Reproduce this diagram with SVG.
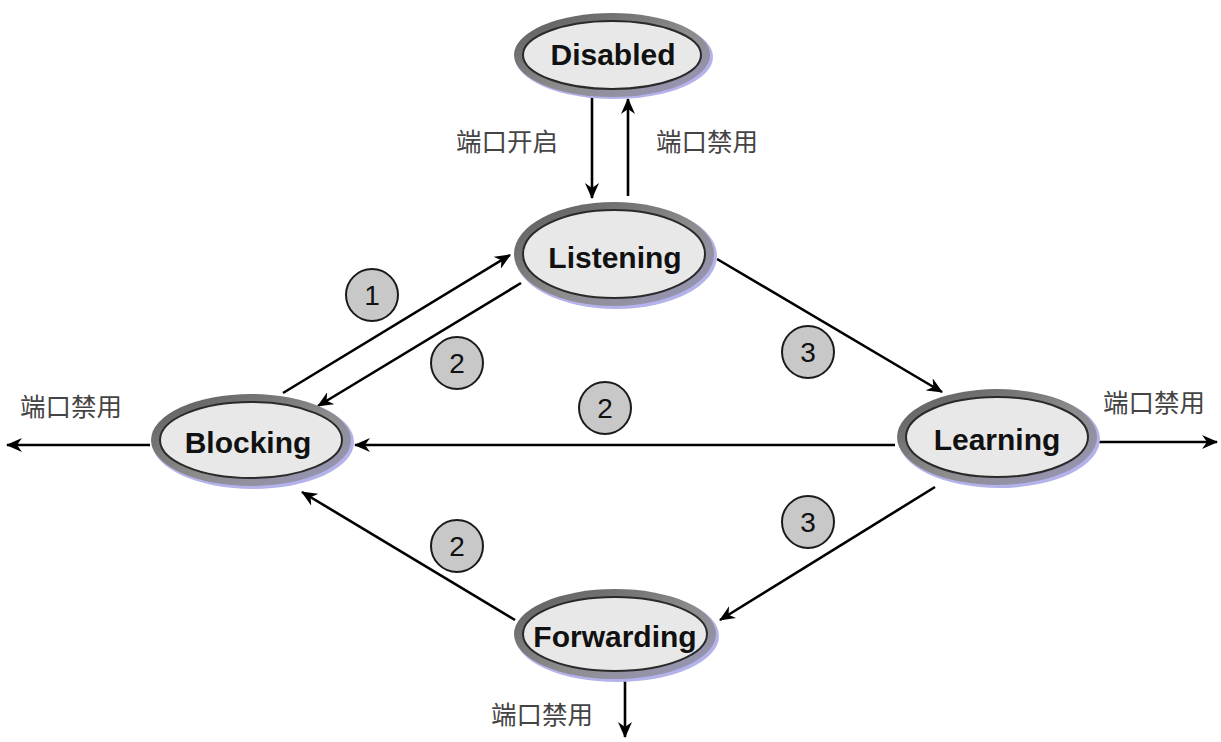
<svg xmlns="http://www.w3.org/2000/svg" width="1221" height="742" viewBox="0 0 1221 742">
<defs>
<linearGradient id="ring" x1="0" y1="0" x2="1" y2="1">
<stop offset="0" stop-color="#5a5a5a"/>
<stop offset="0.55" stop-color="#8c8c8c"/>
<stop offset="1" stop-color="#9a98c0"/>
</linearGradient>
<marker id="ah" viewBox="0 0 16 14" refX="15" refY="7" markerWidth="16" markerHeight="14" orient="auto" markerUnits="userSpaceOnUse">
<path d="M0,0 L16,7 L0,14 L5,7 z" fill="#000"/>
</marker>
<style>
.glow{fill:#b4b2ea}
.ring{fill:url(#ring)}
.inner{fill:#e8e8e8;stroke:#2a2a2a;stroke-width:2}
.lbl{font-family:"Liberation Sans",Arial,sans-serif;font-weight:bold;font-size:30px;fill:#111;text-anchor:middle}
.cn{font-family:"Noto Sans CJK SC","Noto Sans",sans-serif;font-size:25.5px;fill:#444}
.edge{stroke:#000;stroke-width:2.6;fill:none;marker-end:url(#ah)}
.badge circle{fill:#c8c8c8;stroke:#1a1a1a;stroke-width:2}
.badge text{font-family:"Liberation Sans",Arial,sans-serif;font-size:28px;fill:#111;text-anchor:middle}
</style>
</defs>
<rect width="1221" height="742" fill="#fff"/>
<g id="connectors">
<line class="edge" x1="592" y1="98" x2="592" y2="198"/>
<line class="edge" x1="628" y1="196" x2="628" y2="99"/>
<line class="edge" x1="283" y1="393" x2="510" y2="255"/>
<line class="edge" x1="521" y1="283" x2="318" y2="406"/>
<line class="edge" x1="717" y1="259" x2="942" y2="392"/>
<line class="edge" x1="895" y1="445" x2="355" y2="445"/>
<line class="edge" x1="935" y1="487" x2="720" y2="620"/>
<line class="edge" x1="515" y1="620" x2="302" y2="492"/>
<line class="edge" x1="150" y1="445" x2="7" y2="445"/>
<line class="edge" x1="1097" y1="442" x2="1217" y2="442"/>
<line class="edge" x1="625" y1="680" x2="625" y2="737"/>
</g>
<g id="labels">
<text class="cn" x="456" y="151">端口开启</text>
<text class="cn" x="656" y="151">端口禁用</text>
<text class="cn" x="20" y="416">端口禁用</text>
<text class="cn" x="1103" y="412">端口禁用</text>
<text class="cn" x="491" y="724">端口禁用</text>
</g>
<g id="badges">
<g class="badge"><circle cx="372" cy="295" r="26"/><text x="372" y="305">1</text></g>
<g class="badge"><circle cx="457" cy="363" r="26"/><text x="457" y="373">2</text></g>
<g class="badge"><circle cx="808" cy="352" r="26"/><text x="808" y="362">3</text></g>
<g class="badge"><circle cx="605" cy="408" r="26"/><text x="605" y="418">2</text></g>
<g class="badge"><circle cx="808" cy="522" r="26"/><text x="808" y="532">3</text></g>
<g class="badge"><circle cx="457" cy="546" r="26"/><text x="457" y="556">2</text></g>
</g>
<g id="node-disabled">
<ellipse class="glow" cx="614" cy="57" rx="99" ry="42"/>
<ellipse class="ring" cx="612" cy="55" rx="98" ry="42"/>
<ellipse class="inner" cx="612" cy="55" rx="89" ry="34"/>
<text class="lbl" x="613" y="65">Disabled</text>
</g>
<g id="node-listening">
<ellipse class="glow" cx="616" cy="256" rx="101" ry="53"/>
<ellipse class="ring" cx="614" cy="254" rx="100" ry="52"/>
<ellipse class="inner" cx="614" cy="254" rx="91" ry="44"/>
<text class="lbl" x="615" y="268">Listening</text>
</g>
<g id="node-blocking">
<ellipse class="glow" cx="253" cy="442" rx="101" ry="47"/>
<ellipse class="ring" cx="251" cy="440" rx="100" ry="46"/>
<ellipse class="inner" cx="251" cy="440" rx="91" ry="38"/>
<text class="lbl" x="248" y="453">Blocking</text>
</g>
<g id="node-learning">
<ellipse class="glow" cx="999" cy="439" rx="101" ry="49"/>
<ellipse class="ring" cx="997" cy="437" rx="100" ry="48"/>
<ellipse class="inner" cx="997" cy="437" rx="91" ry="40"/>
<text class="lbl" x="997" y="450">Learning</text>
</g>
<g id="node-forwarding">
<ellipse class="glow" cx="617" cy="636" rx="102" ry="46"/>
<ellipse class="ring" cx="615" cy="634" rx="101" ry="45"/>
<ellipse class="inner" cx="615" cy="634" rx="92" ry="37"/>
<text class="lbl" x="615" y="647">Forwarding</text>
</g>
</svg>
